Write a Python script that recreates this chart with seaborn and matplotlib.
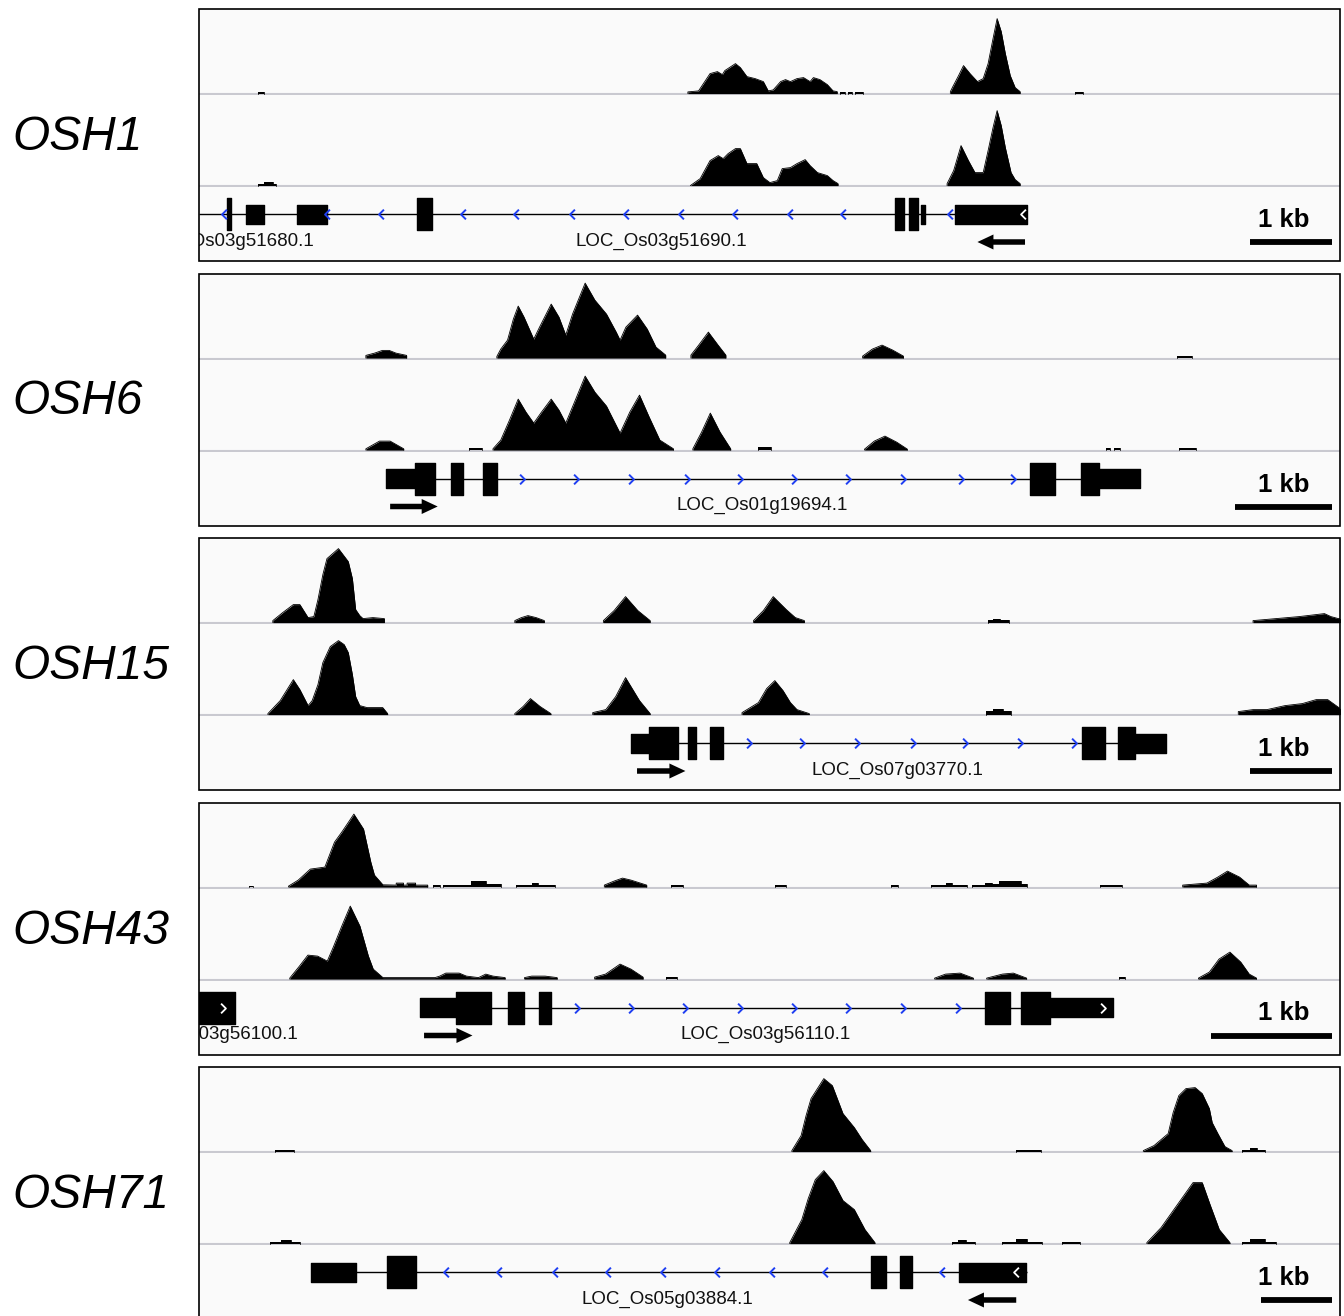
import matplotlib
matplotlib.use("Agg")
import matplotlib.pyplot as plt
from matplotlib.patches import Rectangle
from matplotlib.path import Path
import numpy as np
import pandas as pd
import seaborn as sns

# ChIP coverage at five OSH loci, two replicate tracks each, plus gene models.
# positions in kb from the left edge of each browser window, coverage in track pixels

LOCI = ["OSH1", "OSH6", "OSH15", "OSH43", "OSH71"]
VIEW_KB = [13.91, 11.76, 13.91, 9.43, 16.07]

# ---- OSH1 ----
OSH1_A_X = [0.72, 0.72, 0.79, 0.79,
            5.96, 5.96, 6.09, 6.23, 6.32, 6.38, 6.41, 6.54, 6.60, 6.68, 6.78, 6.88, 6.94,
            7.00, 7.09, 7.15, 7.21, 7.29, 7.37, 7.45, 7.49, 7.57, 7.66, 7.73, 7.78, 7.78,
            7.81, 7.81, 7.88, 7.88, 7.91, 7.91, 7.96, 7.96, 8.00, 8.00, 8.09, 8.09,
            9.16, 9.16, 9.19, 9.26, 9.32, 9.40, 9.49, 9.56, 9.62, 9.68, 9.73, 9.78, 9.83,
            9.89, 9.95, 10.01, 10.01,
            10.68, 10.68, 10.78, 10.78]
OSH1_A_Y = [0, 2, 2, 0,
            0, 1.7, 2.7, 20, 22, 19, 23, 30, 26, 17, 15, 12, 2.7,
            3.7, 12, 14, 12, 15, 16, 12, 16, 14, 9, 2.7, 2, 0,
            0, 2, 2, 0, 0, 2, 2, 0, 0, 2, 2, 0,
            0, 2, 7, 18, 28, 20, 12, 15, 30, 55, 75, 62, 40,
            18, 6, 2, 0,
            0, 2, 2, 0]
OSH1_B_X = [0.72, 0.72, 0.79, 0.79, 0.90, 0.90, 0.94, 0.94,
            5.99, 6.11, 6.23, 6.33, 6.39, 6.45, 6.54, 6.60, 6.68, 6.80, 6.88, 6.96,
            7.05, 7.11, 7.21, 7.29, 7.39, 7.45, 7.54, 7.66, 7.73, 7.79, 7.79,
            9.12, 9.12, 9.20, 9.29, 9.38, 9.46, 9.56, 9.62, 9.68, 9.73, 9.78, 9.83,
            9.90, 9.95, 10.01, 10.01]
OSH1_B_Y = [0, 2, 2, 4, 4, 2, 2, 0,
            0, 7, 25, 30, 27, 32, 37, 37, 22, 22, 8, 3,
            5, 17, 18, 22, 26, 20, 13, 10, 5, 2, 0,
            0, 2, 15, 40, 25, 13, 13, 35, 58, 75, 60, 38,
            13, 6, 2, 0]
OSH1_INTRON = (0.0, 10.10)
OSH1_CDS = [(0.34, 0.39), (2.66, 2.84), (8.49, 8.60), (8.66, 8.77)]
OSH1_UTR = [(0.57, 0.79), (1.20, 1.56), (8.80, 8.85), (9.22, 10.10)]
OSH1_CHEVRONS = [0.30, 1.56, 2.22, 3.22, 3.87, 4.55, 5.20, 5.87, 6.54, 7.21, 7.85, 9.15]
OSH1_WHITE_CHEVRONS = [10.05]
OSH1_STRAND = "-"
OSH1_ARROW = (9.49, 10.07)
OSH1_GENE = ("LOC_Os03g51690.1", 5.63)
OSH1_NEIGHBOUR = ("LOC_Os03g51680.1", 1.41)

# ---- OSH6 ----
OSH6_A_X = [1.72, 1.72, 1.81, 1.89, 1.96, 2.03, 2.14, 2.14,
            3.07, 3.07, 3.11, 3.18, 3.24, 3.29, 3.35, 3.45, 3.51, 3.63, 3.71, 3.78,
            3.85, 3.98, 4.08, 4.20, 4.30, 4.34, 4.40, 4.52, 4.62, 4.71, 4.81, 4.81,
            5.07, 5.07, 5.15, 5.25, 5.35, 5.43, 5.43,
            6.84, 6.84, 6.94, 7.04, 7.15, 7.26, 7.26,
            10.08, 10.08, 10.23, 10.23]
OSH6_A_Y = [0, 2.7, 5, 7.7, 7.7, 5, 2.7, 0,
            0, 1.7, 9, 18, 39, 52, 41, 19, 31, 54, 41, 23,
            44, 75, 58, 44, 26, 18, 31, 43, 29, 11, 3, 0,
            0, 3, 13, 26, 13, 3, 0,
            0, 2, 9, 13, 8, 2, 0,
            0, 2, 2, 0]
OSH6_B_X = [1.72, 1.72, 1.86, 1.97, 2.11, 2.11,
            2.78, 2.78, 2.92, 2.92,
            3.03, 3.03, 3.11, 3.20, 3.29, 3.37, 3.45, 3.53, 3.63, 3.71, 3.78,
            3.87, 3.98, 4.08, 4.20, 4.34, 4.44, 4.54, 4.64, 4.75, 4.89, 4.89,
            5.09, 5.09, 5.18, 5.27, 5.37, 5.48, 5.48,
            5.76, 5.76, 5.90, 5.90,
            6.86, 6.86, 6.96, 7.07, 7.19, 7.30, 7.30,
            9.35, 9.35, 9.39, 9.39, 9.43, 9.43, 9.49, 9.49,
            10.10, 10.10, 10.28, 10.28]
OSH6_B_Y = [0, 1.3, 9, 9, 1.3, 0,
            0, 2, 2, 0,
            0, 1.3, 10, 30, 51, 38, 27, 38, 51, 40, 27,
            48, 74, 58, 44, 17, 38, 55, 33, 10, 1.3, 0,
            0, 1.3, 18, 37, 18, 1.3, 0,
            0, 3, 3, 0,
            0, 1, 9, 14, 8, 1, 0,
            0, 2, 2, 0, 0, 2, 2, 0,
            0, 2, 2, 0]
OSH6_INTRON = (1.94, 9.70)
OSH6_CDS = [(2.23, 2.43), (2.60, 2.72), (2.93, 3.07), (8.57, 8.82), (9.09, 9.28)]
OSH6_UTR = [(1.93, 2.23), (9.28, 9.70)]
OSH6_CHEVRONS = [3.33, 3.89, 4.45, 5.03, 5.58, 6.13, 6.69, 7.26, 7.85, 8.39]
OSH6_WHITE_CHEVRONS = []
OSH6_STRAND = "+"
OSH6_ARROW = (1.97, 2.46)
OSH6_GENE = ("LOC_Os01g19694.1", 5.80)

# ---- OSH15 ----
OSH15_A_X = [0.90, 0.90, 1.02, 1.15, 1.23, 1.33, 1.40, 1.45, 1.51, 1.56, 1.70, 1.82,
             1.87, 1.91, 1.96, 2.00, 2.12, 2.26, 2.26,
             3.85, 3.85, 3.93, 4.01, 4.11, 4.21, 4.21,
             4.93, 4.93, 5.06, 5.20, 5.35, 5.50, 5.50,
             6.76, 6.76, 6.88, 7.00, 7.16, 7.27, 7.38, 7.38,
             9.62, 9.62, 9.68, 9.68, 9.77, 9.77, 9.88, 9.88,
             12.85, 12.85, 13.13, 13.41, 13.72, 13.80, 13.89, 13.93, 13.93]
OSH15_A_Y = [0, 2, 10, 18, 18, 5, 6, 23, 48, 64, 74, 61,
             44, 13, 7, 4, 5, 4, 0,
             0, 2, 5, 7, 5, 2, 0,
             0, 2, 12, 26, 12, 2, 0,
             0, 2, 12, 26, 13, 5, 2, 0,
             0, 3, 3, 4, 4, 3, 3, 0,
             0, 2, 4, 6, 9, 6, 4, 4, 0]
OSH15_B_X = [0.84, 0.84, 0.99, 1.15, 1.23, 1.33, 1.38, 1.45, 1.51, 1.60, 1.70, 1.77,
             1.82, 1.87, 1.91, 1.96, 2.05, 2.24, 2.30, 2.30,
             3.85, 3.85, 3.95, 4.04, 4.16, 4.29, 4.29,
             4.80, 4.80, 4.96, 5.08, 5.20, 5.37, 5.50, 5.50,
             6.62, 6.62, 6.82, 6.92, 7.02, 7.12, 7.21, 7.29, 7.44, 7.44,
             9.60, 9.60, 9.68, 9.68, 9.80, 9.80, 9.90, 9.90,
             12.67, 12.67, 12.85, 13.02, 13.24, 13.45, 13.62, 13.76, 13.93, 13.93]
OSH15_B_Y = [0, 1, 14, 35, 25, 9, 14, 30, 52, 68, 74, 70,
             62, 40, 18, 9, 7, 7, 1, 0,
             0, 1, 8, 16, 8, 1, 0,
             0, 2, 5, 18, 37, 14, 1, 0,
             0, 2, 12, 26, 34, 24, 12, 5, 1, 0,
             0, 4, 4, 6, 6, 4, 4, 0,
             0, 3, 5, 5, 9, 11, 15, 15, 5, 0]
OSH15_INTRON = (5.28, 11.79)
OSH15_CDS = [(5.48, 5.84), (5.96, 6.06), (6.23, 6.39), (10.76, 11.04), (11.20, 11.41)]
OSH15_UTR = [(5.27, 5.48), (11.41, 11.79)]
OSH15_CHEVRONS = [6.71, 7.35, 8.02, 8.70, 9.34, 10.01, 10.67]
OSH15_WHITE_CHEVRONS = []
OSH15_STRAND = "+"
OSH15_ARROW = (5.34, 5.93)
OSH15_GENE = ("LOC_Os07g03770.1", 8.51)

# ---- OSH43 ----
OSH43_A_X = [0.41, 0.41, 0.45, 0.45,
             0.74, 0.74, 0.82, 0.92, 1.04, 1.12, 1.18, 1.28, 1.36, 1.42, 1.45, 1.52,
             1.63, 1.63, 1.69, 1.69, 1.72, 1.72, 1.79, 1.79, 1.89, 1.89,
             1.93, 1.93, 1.99, 1.99,
             2.02, 2.02, 2.25, 2.25, 2.37, 2.37, 2.50, 2.50,
             2.62, 2.62, 2.75, 2.75, 2.80, 2.80, 2.94, 2.94,
             3.35, 3.35, 3.43, 3.50, 3.57, 3.70, 3.70,
             3.90, 3.90, 4.00, 4.00,
             4.76, 4.76, 4.85, 4.85,
             5.72, 5.72, 5.78, 5.78,
             6.05, 6.05, 6.17, 6.17, 6.22, 6.22, 6.35, 6.35,
             6.39, 6.39, 6.50, 6.50, 6.55, 6.55, 6.61, 6.61, 6.79, 6.79, 6.84, 6.84,
             7.45, 7.45, 7.63, 7.63,
             8.13, 8.13, 8.33, 8.42, 8.50, 8.60, 8.68, 8.74, 8.74]
OSH43_A_Y = [0, 1.5, 1.5, 0,
             0, 1, 7, 18, 20, 45, 55, 73, 58, 25, 12, 2.3,
             2, 4, 4, 2, 2, 4, 4, 2, 2, 0,
             0, 2, 2, 0,
             0, 2, 2, 6, 6, 3, 3, 0,
             0, 2, 2, 4, 4, 2, 2, 0,
             0, 2, 6, 9, 7, 2, 0,
             0, 2, 2, 0,
             0, 2, 2, 0,
             0, 2, 2, 0,
             0, 2, 2, 4, 4, 2, 2, 0,
             0, 2, 2, 4, 4, 3, 3, 6, 6, 3, 3, 0,
             0, 2, 2, 0,
             0, 2, 4, 10, 16, 10, 2, 2, 0]
OSH43_B_X = [0.75, 0.75, 0.83, 0.90, 0.98, 1.06, 1.11, 1.18, 1.25, 1.33, 1.40, 1.44,
             1.52, 1.95, 1.99, 2.04, 2.15, 2.21, 2.31, 2.37, 2.43, 2.53, 2.53,
             2.69, 2.69, 2.75, 2.86, 2.96, 2.96,
             3.27, 3.27, 3.36, 3.48, 3.57, 3.67, 3.67,
             3.86, 3.86, 3.95, 3.95,
             6.08, 6.08, 6.17, 6.29, 6.40, 6.40,
             6.51, 6.51, 6.64, 6.73, 6.84, 6.84,
             7.60, 7.60, 7.65, 7.65,
             8.26, 8.26, 8.35, 8.43, 8.52, 8.61, 8.68, 8.74, 8.74]
OSH43_B_Y = [0, 1, 13, 24, 23, 18, 32, 53, 73, 53, 23, 10,
             1.5, 1.5, 3, 6, 6, 3, 1.5, 5, 3, 1.5, 0,
             0, 1.5, 3, 3, 1.5, 0,
             0, 2, 5, 15, 10, 2, 0,
             0, 2, 2, 0,
             0, 1, 5, 6, 1, 0,
             0, 1, 5, 6, 1, 0,
             0, 2, 2, 0,
             0, 1, 7, 20, 27, 17, 5, 1, 0]
OSH43_INTRON = (1.83, 7.55)
OSH43_CDS = [(0.00, 0.30), (2.12, 2.41), (2.55, 2.69), (2.81, 2.91), (6.50, 6.70), (6.79, 7.03)]
OSH43_UTR = [(1.83, 2.12), (7.03, 7.55)]
OSH43_CHEVRONS = [3.12, 3.57, 4.02, 4.47, 4.92, 5.36, 5.82, 6.27]
OSH43_WHITE_CHEVRONS = [0.20, 7.47]
OSH43_STRAND = "+"
OSH43_ARROW = (1.86, 2.26)
OSH43_GENE = ("LOC_Os03g56110.1", 4.68)
OSH43_NEIGHBOUR = ("LOC_Os03g56100.1", 0.82)

# ---- OSH71 ----
OSH71_A_X = [1.07, 1.07, 1.34, 1.34,
             8.35, 8.35, 8.48, 8.55, 8.62, 8.80, 8.92, 9.07, 9.23, 9.34, 9.46, 9.46,
             11.51, 11.51, 11.86, 11.86,
             13.30, 13.30, 13.45, 13.65, 13.72, 13.80, 13.90, 14.03, 14.13, 14.23,
             14.27, 14.35, 14.45, 14.55, 14.55,
             14.69, 14.69, 14.80, 14.80, 14.90, 14.90, 15.01, 15.01]
OSH71_A_Y = [0, 2, 2, 0,
             0, 1, 16, 36, 53, 73, 66, 38, 24, 12, 1, 0,
             0, 2, 2, 0,
             0, 1, 6, 18, 39, 56, 63, 64, 58, 43,
             29, 18, 5, 1, 0,
             0, 2, 2, 4, 4, 2, 2, 0]
OSH71_B_X = [1.00, 1.00, 1.15, 1.15, 1.30, 1.30, 1.42, 1.42,
             8.32, 8.32, 8.49, 8.58, 8.68, 8.80, 8.93, 9.07, 9.23, 9.38, 9.52, 9.52,
             10.61, 10.61, 10.69, 10.69, 10.80, 10.80, 10.93, 10.93,
             11.31, 11.31, 11.51, 11.51, 11.66, 11.66, 11.87, 11.87,
             12.15, 12.15, 12.41, 12.41,
             13.35, 13.35, 13.55, 13.77, 13.90, 14.00, 14.13, 14.24, 14.37, 14.52, 14.52,
             14.69, 14.69, 14.80, 14.80, 15.01, 15.01, 15.17, 15.17]
OSH71_B_Y = [0, 2, 2, 4, 4, 2, 2, 0,
             0, 1, 24, 45, 64, 73, 62, 43, 34, 14, 1, 0,
             0, 2, 2, 4, 4, 2, 2, 0,
             0, 2, 2, 5, 5, 2, 2, 0,
             0, 2, 2, 0,
             0, 1, 16, 38, 51, 61, 61, 39, 14, 1, 0,
             0, 2, 2, 5, 5, 2, 2, 0]
OSH71_INTRON = (1.59, 11.66)
OSH71_CDS = [(2.65, 3.06), (9.46, 9.68), (9.87, 10.04)]
OSH71_UTR = [(1.58, 2.21), (10.70, 11.65)]
OSH71_CHEVRONS = [3.48, 4.23, 5.01, 5.76, 6.54, 7.30, 8.07, 8.82, 10.46]
OSH71_WHITE_CHEVRONS = [11.51]
OSH71_STRAND = "-"
OSH71_ARROW = (10.83, 11.51)
OSH71_GENE = ("LOC_Os05g03884.1", 6.59)

panels = [
    dict(a=(OSH1_A_X, OSH1_A_Y), b=(OSH1_B_X, OSH1_B_Y), intron=OSH1_INTRON, cds=OSH1_CDS,
         utr=OSH1_UTR, chev=OSH1_CHEVRONS, white=OSH1_WHITE_CHEVRONS, strand=OSH1_STRAND,
         arrow=OSH1_ARROW, gene=OSH1_GENE, neighbour=OSH1_NEIGHBOUR),
    dict(a=(OSH6_A_X, OSH6_A_Y), b=(OSH6_B_X, OSH6_B_Y), intron=OSH6_INTRON, cds=OSH6_CDS,
         utr=OSH6_UTR, chev=OSH6_CHEVRONS, white=OSH6_WHITE_CHEVRONS, strand=OSH6_STRAND,
         arrow=OSH6_ARROW, gene=OSH6_GENE, neighbour=None),
    dict(a=(OSH15_A_X, OSH15_A_Y), b=(OSH15_B_X, OSH15_B_Y), intron=OSH15_INTRON, cds=OSH15_CDS,
         utr=OSH15_UTR, chev=OSH15_CHEVRONS, white=OSH15_WHITE_CHEVRONS, strand=OSH15_STRAND,
         arrow=OSH15_ARROW, gene=OSH15_GENE, neighbour=None),
    dict(a=(OSH43_A_X, OSH43_A_Y), b=(OSH43_B_X, OSH43_B_Y), intron=OSH43_INTRON, cds=OSH43_CDS,
         utr=OSH43_UTR, chev=OSH43_CHEVRONS, white=OSH43_WHITE_CHEVRONS, strand=OSH43_STRAND,
         arrow=OSH43_ARROW, gene=OSH43_GENE, neighbour=OSH43_NEIGHBOUR),
    dict(a=(OSH71_A_X, OSH71_A_Y), b=(OSH71_B_X, OSH71_B_Y), intron=OSH71_INTRON, cds=OSH71_CDS,
         utr=OSH71_UTR, chev=OSH71_CHEVRONS, white=OSH71_WHITE_CHEVRONS, strand=OSH71_STRAND,
         arrow=OSH71_ARROW, gene=OSH71_GENE, neighbour=None),
]

sns.set_theme(style="white")
plt.rcParams["font.family"] = ["Liberation Sans", "DejaVu Sans"]
plt.rcParams["text.color"] = "black"

W, H = 1344, 1316
LEFT, WIDTH = 199, 1141
FIRST_TOP, STEP = 9, 264.5
H_A, H_B, H_GENE = 86, 92, 74
BLUE = "#1f3ff2"
GRID = "#c9c9d0"
BG = "#fafafa"

CHEV_L = Path([(0.5, 1), (-0.5, 0), (0.5, -1)], [Path.MOVETO, Path.LINETO, Path.LINETO])
CHEV_R = Path([(-0.5, 1), (0.5, 0), (-0.5, -1)], [Path.MOVETO, Path.LINETO, Path.LINETO])

fig = plt.figure(figsize=(W / 100, H / 100), dpi=100)


def px_axes(top, height):
    return fig.add_axes([LEFT / W, 1 - (top + height) / H, WIDTH / W, height / H])


def draw_coverage(ax, xs, ys, view, height):
    df = pd.DataFrame({"pos": xs, "cov": ys})
    # every peak starts and ends at zero, so zeros come in pairs
    df["peak"] = (df["cov"].eq(0).cumsum() - 1) // 2
    ax.axhline(-0.6, color=GRID, lw=1.5, zorder=1)
    for _, seg in df.groupby("peak"):
        ax.fill_between(seg["pos"], 0, seg["cov"], color="black", lw=0, zorder=2)
    sns.lineplot(data=df, x="pos", y="cov", units="peak", estimator=None, sort=False,
                 color="black", lw=0.6, ax=ax, zorder=3)
    ax.set_xlim(0, view)
    ax.set_ylim(-1.4, height - 1.4)
    ax.axis("off")


def draw_gene(ax, view, p):
    ppk = WIDTH / view
    ax.hlines(0, p["intron"][0], p["intron"][1], color="black", lw=1.0, zorder=1)
    ax.broken_barh([(s, e - s) for s, e in p["utr"]], (-9.5, 19), color="black", zorder=2)
    ax.broken_barh([(s, e - s) for s, e in p["cds"]], (-16, 32), color="black", zorder=2)
    mk = CHEV_L if p["strand"] == "-" else CHEV_R
    ax.plot(p["chev"], np.zeros(len(p["chev"])), ls="none", marker=mk, ms=7,
            mfc="none", mec=BLUE, mew=1.4, zorder=3)
    if p["white"]:
        ax.plot(p["white"], np.zeros(len(p["white"])), ls="none", marker=mk, ms=7,
                mfc="none", mec="white", mew=1.3, zorder=3)
    a0, a1 = p["arrow"]
    if p["strand"] == "-":
        start, dx = a1, a0 - a1
    else:
        start, dx = a0, a1 - a0
    ax.arrow(start, -28, dx, 0, width=5.5, head_width=15, head_length=16 / ppk,
             length_includes_head=True, color="black", lw=0)
    name, gx = p["gene"]
    ax.text(gx, -31.5, name, ha="center", va="baseline", fontsize=13.5,
            color="#111111", clip_on=True)
    if p["neighbour"]:
        nname, nx = p["neighbour"]
        ax.text(nx, -31.5, nname, ha="right", va="baseline", fontsize=13.5,
                color="#111111", clip_on=True)
    # 1 kb scale bar
    end = view * 0.993
    ax.plot([end - 1, end], [-28, -28], color="black", lw=4.2, solid_capstyle="butt")
    ax.text(0.951, -13, "1 kb", transform=ax.get_yaxis_transform(), ha="center",
            va="baseline", fontsize=18.5, fontweight="bold", color="black")
    ax.set_xlim(0, view)
    ax.set_ylim(-47, 27)
    ax.axis("off")


for i, (name, view, p) in enumerate(zip(LOCI, VIEW_KB, panels)):
    top = FIRST_TOP + STEP * i
    total = H_A + H_B + H_GENE

    frame = px_axes(top, total)
    frame.set_facecolor(BG)
    frame.set_xticks([])
    frame.set_yticks([])
    for s in frame.spines.values():
        s.set_visible(False)

    ax_a = px_axes(top, H_A)
    draw_coverage(ax_a, p["a"][0], p["a"][1], view, H_A)
    ax_b = px_axes(top + H_A, H_B)
    draw_coverage(ax_b, p["b"][0], p["b"][1], view, H_B)
    ax_g = px_axes(top + H_A + H_B, H_GENE)
    draw_gene(ax_g, view, p)

    fig.add_artist(Rectangle((LEFT / W, 1 - (top + total) / H), WIDTH / W, total / H,
                             transform=fig.transFigure, fill=False, ec="black",
                             lw=1.2, zorder=10))
    fig.text(12 / W, 1 - (top + 141) / H, name, fontsize=34.5, style="italic",
             ha="left", va="baseline", color="black")

fig.savefig("out.png", dpi=100)
